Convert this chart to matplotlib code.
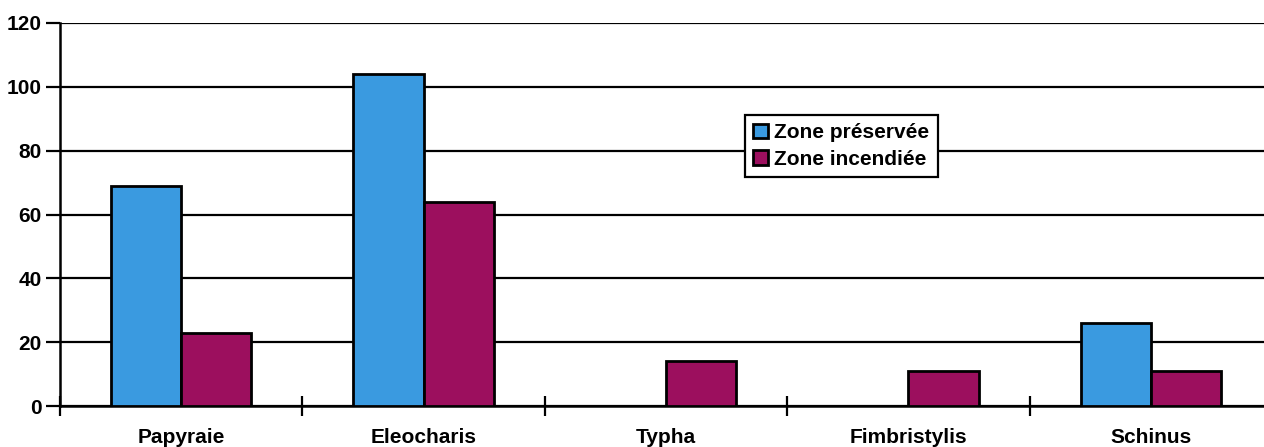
import numpy as np
import matplotlib.pyplot as plt

# Densité par formation végétale
categories = ["Papyraie", "Eleocharis", "Typha", "Fimbristylis", "Schinus"]
zone_preservee = [69, 104, 0, 0, 26]
zone_incendiee = [23, 64, 14, 11, 11]
series_labels = ["Zone préservée", "Zone incendiée"]
yticks = [0, 20, 40, 60, 80, 100, 120]

BLUE = "#3a9ae0"
PURPLE = "#9c0f5e"

plt.rcParams["font.family"] = ["Liberation Sans", "DejaVu Sans"]
plt.rcParams["font.weight"] = "bold"

W, H = 1264, 447
fig = plt.figure(figsize=(W / 100, H / 100), dpi=100)
# axes run a little past the right border of the figure
ax = fig.add_axes([60 / W, 1 - 406 / H, 1212 / W, 383 / H])

x = np.arange(len(categories))
bw = 0.29
ax.bar(x - bw / 2, zone_preservee, bw, color=BLUE, edgecolor="black",
       linewidth=2, label=series_labels[0], zorder=3)
ax.bar(x + bw / 2, zone_incendiee, bw, color=PURPLE, edgecolor="black",
       linewidth=2, label=series_labels[1], zorder=3)

ax.set_xlim(-0.5, len(categories) - 0.5)
ax.set_ylim(0, 120)
ax.set_yticks(yticks)
ax.yaxis.grid(True, color="black", linewidth=1.6, zorder=1)
ax.set_axisbelow(True)

# category boundaries as major ticks, names on minor ticks at the centres
ax.set_xticks(np.arange(-0.5, len(categories) + 0.5, 1.0))
ax.set_xticklabels([])
ax.set_xticks(x, minor=True)
ax.set_xticklabels(categories, minor=True, fontsize=15, fontweight="bold")
ax.tick_params(axis="x", which="major", direction="inout", length=14,
               width=1.6, color="black")
ax.tick_params(axis="x", which="minor", length=0, pad=16)
ax.tick_params(axis="y", direction="out", length=10, width=1.6,
               labelsize=15, pad=3)
for lbl in ax.get_yticklabels():
    lbl.set_fontweight("bold")

for side in ["top", "right"]:
    ax.spines[side].set_visible(False)
ax.spines["left"].set_linewidth(1.8)
ax.spines["bottom"].set_linewidth(1.8)

leg = ax.legend(loc="upper left", bbox_to_anchor=(745 / W, 1 - 115 / H),
                bbox_transform=fig.transFigure, fontsize=15,
                frameon=True, fancybox=False, shadow=False,
                handlelength=0.7, handleheight=0.7, handletextpad=0.3,
                borderpad=0.4, labelspacing=0.35, borderaxespad=0)
leg.get_frame().set_edgecolor("black")
leg.get_frame().set_linewidth(1.6)
leg.get_frame().set_alpha(1)
for t in leg.get_texts():
    t.set_fontweight("bold")

fig.savefig("out.png", dpi=100)
